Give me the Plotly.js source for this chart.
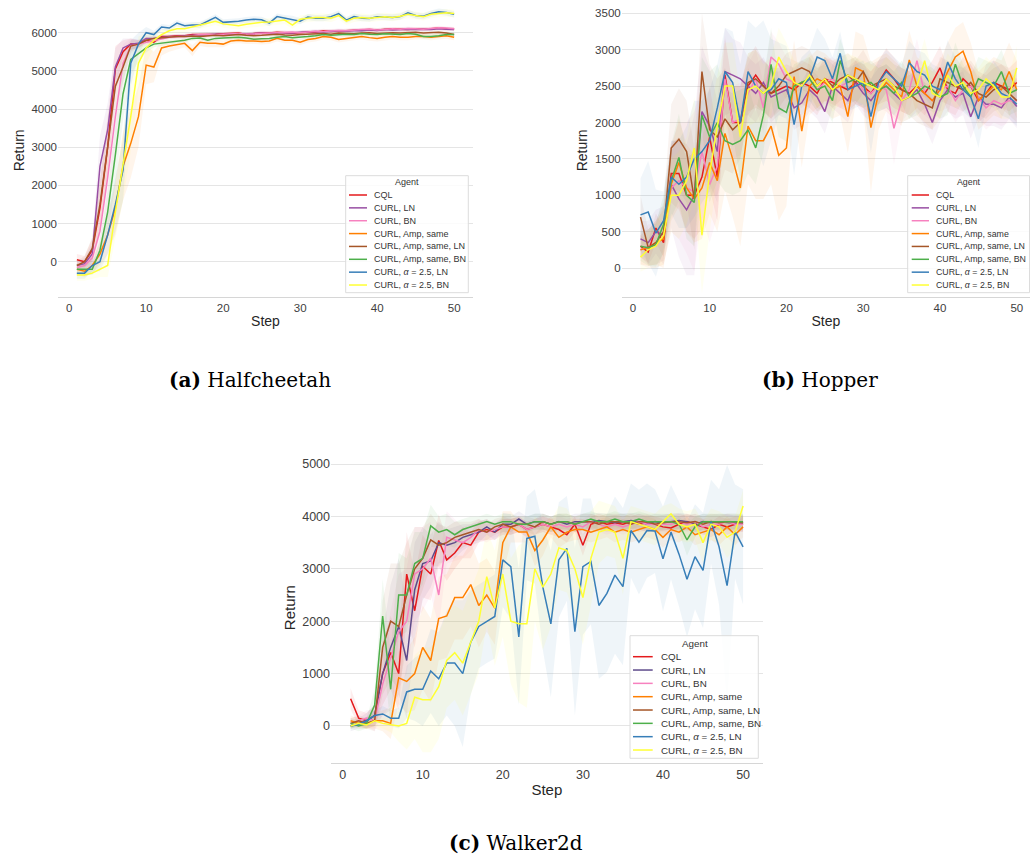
<!DOCTYPE html>
<html>
<head>
<meta charset="utf-8">
<script src="https://cdn.plot.ly/plotly-3.0.1.min.js"></script>
<style>html,body{margin:0;padding:0;background:#fff}#chart{width:1030px;height:860px}</style>
</head>
<body>
<div id="chart"></div>
<script>
// ---------------- data ----------------
const steps = [1,2,3,4,5,6,7,8,9,10,11,12,13,14,15,16,17,18,19,20,21,22,23,24,25,26,27,28,29,30,31,32,33,34,35,36,37,38,39,40,41,42,43,44,45,46,47,48,49,50];
const agents = ["CQL","CURL, LN","CURL, BN","CURL, Amp, same","CURL, Amp, same, LN","CURL, Amp, same, BN","CURL, α = 2.5, LN","CURL, α = 2.5, BN"];
const agentLabels = ["CQL","CURL, LN","CURL, BN","CURL, Amp, same","CURL, Amp, same, LN","CURL, Amp, same, BN","CURL, <i>α</i> = 2.5, LN","CURL, <i>α</i> = 2.5, BN"];
const colorsAB = ["#e41a1c","#984ea3","#f781bf","#ff7f00","#a65628","#4daf4a","#377eb8","#ffff33"];
const colorsC  = ["#e41a1c","#5e4b8b","#f781bf","#ff7f00","#a65628","#4daf4a","#377eb8","#ffff33"];
const xTicks = [0,10,20,30,40,50];
const yTicksA = [0,1000,2000,3000,4000,5000,6000];
const yTicksB = [0,500,1000,1500,2000,2500,3000,3500];
const yTicksC = [0,1000,2000,3000,4000,5000];
const captions = ["<b>(a)</b> Halfcheetah","<b>(b)</b> Hopper","<b>(c)</b> Walker2d"];

// Halfcheetah means
const hc_cql = [50,0,300,1400,3000,5050,5500,5700,5700,5800,5750,5900,5900,5920,5920,5950,5950,5950,5960,5970,5980,5990,5950,5980,6000,5990,6010,6000,5990,6000,6020,6010,6050,6030,6040,6050,6060,6070,6080,6070,6080,6100,6090,6080,6100,6090,6100,6120,6100,6100];
const hc_ln = [-100,-50,200,2500,3450,5100,5600,5700,5720,5850,5850,5880,5900,5900,5920,5930,5940,5950,5960,5950,5960,5970,5960,5980,5990,5980,6000,6000,5990,6010,6020,6030,6020,6040,6050,6040,6060,6050,6070,6060,6080,6070,6080,6090,6080,6090,6080,6100,6090,6080];
const hc_bn = [-150,-100,100,800,2200,3800,5200,5650,5700,5750,5780,5850,5880,5900,5900,5920,5950,5950,5940,5960,5970,5980,5960,5970,5990,6000,6000,6010,6020,6000,6020,6040,6030,6050,6060,6050,6070,6080,6090,6070,6080,6100,6090,6110,6100,6090,6110,6130,6120,6100];
const hc_amp = [-200,-250,-100,200,700,1400,2500,3100,3800,5150,5100,5600,5650,5680,5720,5530,5750,5720,5720,5700,5780,5800,5780,5780,5770,5780,5850,5800,5800,5750,5820,5850,5900,5880,5820,5850,5880,5900,5870,5850,5880,5900,5880,5880,5900,5900,5880,5900,5920,5880];
const hc_amp_ln = [-100,0,350,1500,3000,4600,5100,5650,5700,5800,5850,5870,5880,5900,5900,5910,5900,5920,5930,5920,5940,5950,5930,5920,5930,5950,5960,5940,5930,5950,5960,5970,5980,5960,5990,5980,5970,5990,6000,5980,5990,6000,5990,6000,6010,5990,6000,6010,5990,5950];
const hc_amp_bn = [-200,-200,-200,300,1300,2800,4400,5300,5450,5600,5700,5720,5750,5780,5800,5850,5860,5800,5850,5860,5870,5880,5860,5830,5840,5850,5880,5900,5870,5880,5900,5920,5950,5930,5950,5960,5950,5980,5960,5950,5970,5960,5950,5980,5960,5900,5900,5920,5950,5950];
const hc_a_ln = [-300,-300,-100,0,700,1500,2400,5200,5700,6000,5950,6150,6120,6250,6180,6200,6200,6300,6400,6270,6280,6300,6330,6350,6340,6250,6420,6380,6360,6300,6410,6380,6380,6420,6500,6330,6420,6380,6370,6420,6410,6400,6420,6520,6450,6430,6500,6550,6530,6480];
const hc_a_bn = [-350,-350,-300,-200,-100,1300,2500,3800,5200,5600,5800,5950,6050,6100,6100,6150,6180,6250,6300,6230,6200,6180,6220,6250,6270,6280,6300,6330,6200,6350,6380,6400,6400,6380,6450,6300,6380,6400,6380,6400,6420,6400,6430,6480,6450,6420,6480,6500,6520,6500];
// Halfcheetah band half-widths
const hc_cql_sd = [150,150,300,700,800,600,300,150,100,80,60,60,50,50,50,50,50,50,50,50,50,50,50,50,50,50,50,50,50,50,50,50,50,50,50,50,50,50,50,50,50,50,50,50,50,50,50,50,50,50];
const hc_ln_sd = [120,150,300,800,700,500,250,150,100,80,60,60,50,50,50,50,50,50,50,50,50,50,50,50,50,50,50,50,50,50,50,50,50,50,50,50,50,50,50,50,50,50,50,50,50,50,50,50,50,50];
const hc_bn_sd = [150,150,250,500,900,800,500,200,100,80,60,60,50,50,50,50,50,50,50,50,50,50,50,50,50,50,50,50,50,50,50,50,50,50,50,50,50,50,50,50,50,50,50,50,50,50,50,50,50,50];
const hc_amp_sd = [150,150,200,300,500,700,900,900,800,500,400,200,150,120,100,150,100,100,100,80,80,80,80,80,80,80,80,80,80,80,80,80,80,80,80,80,80,80,80,80,80,80,80,80,80,80,80,80,80,80];
const hc_amp_ln_sd = [120,150,300,700,800,600,400,150,100,80,60,60,50,50,50,50,50,50,50,50,50,50,50,50,50,50,50,50,50,50,50,50,50,50,50,50,50,50,50,50,50,50,50,50,50,50,50,50,50,50];
const hc_amp_bn_sd = [150,150,150,300,600,800,700,400,200,120,80,60,60,60,60,60,60,60,60,60,60,60,60,60,60,60,60,60,60,60,60,60,60,60,60,60,60,60,60,60,60,60,60,60,60,60,60,60,60,60];
const hc_a_ln_sd = [150,150,150,250,500,700,800,600,300,150,100,80,80,80,80,80,80,80,80,80,80,80,80,80,80,80,80,80,80,80,80,80,80,80,80,80,80,80,80,80,80,80,80,80,80,80,80,80,80,80];
const hc_a_bn_sd = [150,150,150,200,300,700,900,900,700,400,200,120,100,100,100,100,100,100,100,100,100,100,100,100,100,100,100,100,100,100,100,100,100,100,100,100,100,100,100,100,100,100,100,100,100,100,100,100,100,100];

// Hopper means
const hp_cql = [300,220,550,350,1300,1300,1000,1000,1250,1800,1250,2650,2000,2000,2500,2650,2500,2400,2450,2500,2450,2550,2500,2400,2600,2550,2500,2450,2550,2500,2400,2550,2720,2600,2450,2400,2500,2400,2550,2750,2450,2400,2600,2500,2300,2400,2550,2500,2450,2550];
const hp_ln = [400,350,500,450,1150,950,800,1000,2150,1950,1600,2700,2650,2600,2500,2400,2550,2350,2400,2450,2200,2270,2450,2350,2150,2500,2400,2300,2550,2400,2300,2450,2500,2400,2300,2350,2450,2250,2000,2300,2450,2350,2400,2080,2350,2250,2250,2200,2350,2220];
const hp_bn = [250,300,300,450,1100,1200,1100,1050,1600,1150,1400,2600,2000,2050,2400,2600,2200,2900,2800,2600,2550,2500,2600,2450,2550,2600,2500,2550,2600,2450,2400,2500,2450,1920,2300,2450,2850,2400,2300,2450,2500,2300,2450,2500,2350,2200,2300,2250,2300,2300];
const hp_amp = [250,280,350,400,1150,1450,1100,950,1100,1450,1200,1850,1500,1100,1950,1750,1750,1950,1550,1650,2630,1880,2500,2600,2550,2450,2500,2080,2750,2700,1930,2400,2550,2450,2350,2860,2500,2400,2300,2450,2700,2900,2980,2700,2300,2400,2500,2450,2700,2450];
const hp_amp_ln = [700,280,350,500,1650,1770,1600,950,2700,1900,1800,2050,1900,2000,2550,2600,2500,2400,2500,2650,2700,2750,2700,2500,2600,2500,2600,2650,2550,2700,2500,2550,2600,2500,2450,2400,2300,2250,2200,2600,2550,2500,2450,2550,2400,2350,2450,2500,2400,2300];
const hp_amp_bn = [300,280,320,600,1200,1520,1000,900,2100,1800,2000,1750,1700,1750,1900,1650,2100,2800,2200,2140,2500,2550,2600,2450,2500,2300,2850,2550,2600,2500,2550,2450,2500,2400,2550,2350,2400,2500,2450,2350,2400,2800,2500,2350,2600,2550,2500,2700,2400,2450];
const hp_a_ln = [730,770,480,650,1250,1150,1250,1500,1600,1750,2200,2700,2550,2000,2700,2500,2400,2450,2600,2550,1970,2500,2600,2900,2850,2600,2950,2450,2500,2550,2080,2550,2700,2600,2500,2820,2700,2650,2500,2450,2830,2600,2450,2350,2050,2500,2550,2400,2350,2250];
const hp_a_bn = [150,250,300,450,1000,1000,1200,1650,450,1300,1950,2500,2500,1800,2450,2500,2400,2500,2900,2700,2550,2500,2650,2500,2600,2450,2550,2650,2600,2550,2500,2450,2600,2500,2300,2350,2500,2850,2400,2350,2650,2500,2550,2400,2450,2600,2500,2350,2350,2750];
// Hopper band half-widths
const hp_cql_sd = [150,150,200,200,400,500,500,600,700,700,600,500,500,500,400,400,350,350,300,300,300,300,300,300,300,300,300,300,300,300,300,300,300,300,300,300,300,300,300,300,300,300,300,300,300,300,300,300,300,300];
const hp_ln_sd = [250,300,300,400,600,800,900,1100,900,800,700,600,500,500,400,400,350,350,300,300,300,300,300,300,300,300,300,300,300,300,300,300,300,300,300,300,300,300,300,300,300,300,300,300,300,300,300,300,300,300];
const hp_bn_sd = [200,300,300,400,600,800,900,1100,900,800,700,600,500,500,400,400,350,350,300,300,300,300,300,300,300,300,300,300,300,300,300,300,300,500,300,300,300,300,300,300,300,300,300,300,300,300,300,300,300,300];
const hp_amp_sd = [200,250,300,400,500,600,600,600,700,700,700,800,800,800,800,800,800,800,900,800,500,500,400,400,400,400,400,500,500,500,900,500,400,400,400,400,400,400,400,400,400,400,400,400,400,400,400,400,400,400];
const hp_amp_ln_sd = [300,250,300,400,600,700,700,700,800,900,800,700,600,500,400,400,350,350,300,300,300,300,300,300,300,300,300,300,300,300,300,300,300,300,300,300,300,300,300,300,300,300,300,300,300,300,300,300,300,300,300];
const hp_amp_bn_sd = [200,250,300,400,500,600,600,600,800,900,800,700,700,700,600,500,500,500,400,400,300,300,300,300,300,300,300,300,300,300,300,300,300,300,300,300,300,300,300,300,300,300,300,300,300,300,300,300,300,300];
const hp_a_ln_sd = [500,700,600,400,500,600,700,800,700,700,600,600,700,800,700,800,1000,700,500,500,700,400,400,400,300,300,300,300,300,300,500,300,300,300,300,300,300,300,300,300,300,300,300,300,400,300,300,300,300,300];
const hp_a_bn_sd = [200,250,300,400,500,600,600,700,800,800,700,600,600,600,500,500,400,400,400,400,300,300,300,300,300,300,300,300,300,300,300,300,300,300,300,300,300,300,300,300,300,300,300,300,300,300,300,300,300,300];

// Walker2d means
const wk_cql = [520,150,100,200,1000,1400,1000,2900,2200,3050,2900,3540,3170,3300,3500,3450,3700,3750,3700,3800,3800,3850,3750,3800,3850,3800,3750,3650,3850,3450,3850,3900,3850,3880,3850,3900,3850,3880,3850,3800,3780,3850,3900,3850,3800,3750,3850,3800,3850,3850];
const wk_ln = [0,50,100,200,1000,1500,1900,1250,2600,3100,3150,3500,3450,3500,3600,3650,3700,3800,3700,3850,3850,3950,3850,3900,3900,3850,3900,3850,3900,3900,3900,3920,3900,3880,3900,3920,3900,3850,3900,3880,3900,3920,3900,3850,3900,3880,3900,3880,3870,3880];
const wk_bn = [50,100,150,100,800,1300,1800,2000,2900,3000,3200,2500,3600,3550,3500,3600,3750,3700,3750,3800,3800,3850,3750,3800,3850,3800,3850,3800,3850,3800,3900,3850,3800,3850,3800,3850,3900,3850,3850,3850,3850,3900,3850,3900,3800,3850,3850,3900,3850,3850];
const wk_amp = [100,50,50,100,100,50,920,850,1000,1500,1250,2050,2100,2450,2450,2700,2300,2500,2250,3500,3800,3700,3700,3350,3550,3800,3600,3700,3750,3750,3700,3750,3800,3700,3750,3700,3750,3800,3750,3600,3750,3700,3800,3650,3700,3750,3650,3800,3650,3800];
const wk_amp_ln = [50,100,50,100,1500,2000,1900,2500,3000,3200,3550,3450,3500,3600,3650,3700,3750,3700,3800,3850,3800,3850,3850,3800,3900,3850,3900,3900,3850,3900,3900,3850,3900,3900,3900,3850,3900,3900,3850,3880,3900,3900,3880,3900,3850,3900,3880,3900,3900,3880];
const wk_amp_bn = [50,0,50,400,2100,700,2500,2500,3100,3200,3820,3700,3750,3650,3750,3800,3850,3900,3850,3900,3900,3850,3850,3900,3900,3850,3900,3900,3850,3900,3950,3900,3900,3950,3900,3900,3950,3900,3900,3900,3900,3850,3550,3800,3900,3900,3900,3900,3900,3900];
const wk_a_ln = [0,30,100,200,230,150,150,650,700,700,1050,900,1200,1200,1000,1600,1900,2000,2090,3170,3040,1700,3580,3620,2650,1950,3170,3390,1800,3040,3140,2300,2530,2880,2660,3730,3510,3730,3720,3190,3700,3280,2800,3230,2970,3900,3420,2680,3710,3420];
const wk_a_bn = [0,50,20,100,50,30,0,50,550,500,500,750,1250,1400,1200,1600,2000,2850,2250,2900,2000,1950,1950,3000,2650,2900,3400,3350,3000,2450,3200,3700,3750,3700,3200,3900,3850,3800,3750,3900,4050,3850,3800,3850,3500,3850,3800,3600,3700,4200];
// Walker2d band half-widths
const wk_cql_sd = [200,150,150,200,600,700,700,800,700,600,500,500,400,300,300,250,200,200,150,150,150,150,150,150,150,150,150,150,150,200,150,150,150,150,150,150,150,150,150,150,150,150,150,150,150,150,150,150,150,150];
const wk_ln_sd = [100,100,150,200,800,1200,1300,1100,900,700,500,400,300,300,250,200,200,150,150,150,150,150,150,150,150,150,150,150,150,150,150,150,150,150,150,150,150,150,150,150,150,150,150,150,150,150,150,150,150,150];
const wk_bn_sd = [100,100,150,200,600,900,1100,1000,900,800,700,600,500,400,300,250,200,200,150,150,150,150,150,150,150,150,150,150,150,150,150,150,150,150,150,150,150,150,150,150,150,150,150,150,150,150,150,150,150,150];
const wk_amp_sd = [100,100,100,150,200,300,500,600,700,800,800,800,800,800,800,800,800,700,700,600,300,200,200,300,300,200,200,200,200,200,200,200,200,200,200,200,200,200,200,200,200,200,200,200,200,200,200,200,200,200];
const wk_amp_ln_sd = [100,100,100,200,900,1100,1200,1000,800,600,500,400,300,300,250,200,200,150,150,150,150,150,150,150,150,150,150,150,150,150,150,150,150,150,150,150,150,150,150,150,150,150,150,150,150,150,150,150,150,150];
const wk_amp_bn_sd = [100,100,100,300,700,700,800,700,600,500,400,300,300,250,200,200,150,150,150,150,150,150,150,150,150,150,150,150,150,150,150,150,150,150,150,150,150,150,150,150,150,150,300,200,150,150,150,150,150,150];
const wk_a_ln_sd = [50,50,80,100,150,150,200,500,600,700,800,900,1000,1200,1400,1000,800,800,800,900,1000,1300,800,900,1200,1400,1100,1000,1600,1300,1200,1400,1500,1500,1500,900,1000,900,800,1000,900,1000,1100,1000,1100,800,1100,2300,900,1100];
const wk_a_bn_sd = [50,50,80,100,100,150,300,500,800,1000,1000,1000,900,900,1000,1000,1000,900,1100,1200,1200,1500,1600,1000,1200,1000,800,800,900,900,900,600,500,500,700,300,300,300,300,300,200,300,300,300,400,300,300,400,300,300];

// ---------------- build ----------------
const W = 1030, H = 860;
const px = v => v / W;
const py = v => 1 - v / H;
function rgba(hex, a) {
  const n = parseInt(hex.slice(1), 16);
  return `rgba(${(n >> 16) & 255},${(n >> 8) & 255},${n & 255},${a})`;
}
const traces = [];
function addPanel(xa, ya, means, sds, colors, alpha) {
  const rev = steps.slice().reverse();
  means.forEach((m, i) => {
    const up = m.map((v, j) => v + sds[i][j]);
    const lo = m.map((v, j) => v - sds[i][j]).reverse();
    traces.push({x: steps.concat(rev), y: up.concat(lo), mode: 'lines', fill: 'toself',
      fillcolor: rgba(colors[i], alpha), line: {width: 0, color: rgba(colors[i], 0)},
      xaxis: xa, yaxis: ya, hoverinfo: 'skip', showlegend: false});
  });
  means.forEach((m, i) => {
    traces.push({x: steps, y: m, mode: 'lines', name: agents[i],
      line: {color: colors[i], width: 1.5}, xaxis: xa, yaxis: ya, showlegend: false});
  });
}
addPanel('x', 'y', [hc_cql, hc_ln, hc_bn, hc_amp, hc_amp_ln, hc_amp_bn, hc_a_ln, hc_a_bn],
  [hc_cql_sd, hc_ln_sd, hc_bn_sd, hc_amp_sd, hc_amp_ln_sd, hc_amp_bn_sd, hc_a_ln_sd, hc_a_bn_sd], colorsAB, 0.08);
addPanel('x2', 'y2', [hp_cql, hp_ln, hp_bn, hp_amp, hp_amp_ln, hp_amp_bn, hp_a_ln, hp_a_bn],
  [hp_cql_sd, hp_ln_sd, hp_bn_sd, hp_amp_sd, hp_amp_ln_sd, hp_amp_bn_sd, hp_a_ln_sd, hp_a_bn_sd], colorsAB, 0.07);
addPanel('x3', 'y3', [wk_cql, wk_ln, wk_bn, wk_amp, wk_amp_ln, wk_amp_bn, wk_a_ln, wk_a_bn],
  [wk_cql_sd, wk_ln_sd, wk_bn_sd, wk_amp_sd, wk_amp_ln_sd, wk_amp_bn_sd, wk_a_ln_sd, wk_a_bn_sd], colorsC, 0.08);

const FONT = 'Arial, "Liberation Sans", sans-serif';
function xAxis(domain, range, anchor, fs, tfs) {
  return {domain, range, anchor, tickvals: xTicks, showgrid: false, zeroline: false,
    showline: true, linecolor: '#d6d6d6', linewidth: 1, ticks: '',
    tickfont: {size: fs, color: '#404040', family: FONT},
    title: {text: 'Step', font: {size: tfs, color: '#262626', family: FONT}, standoff: 3}};
}
function yAxis(domain, range, anchor, tv, fs, tfs, so) {
  return {domain, range, anchor, tickvals: tv, showgrid: true, gridcolor: '#e5e5e5', gridwidth: 1,
    zeroline: false, showline: false, ticks: '',
    tickfont: {size: fs, color: '#404040', family: FONT},
    title: {text: 'Return', font: {size: tfs, color: '#262626', family: FONT}, standoff: so}};
}

const shapes = [], annotations = [];
function addLegend(box, titleXY, y0, dy, lineX, textX, fs, colors) {
  shapes.push({type: 'rect', xref: 'paper', yref: 'paper', x0: px(box[0]), x1: px(box[2]),
    y0: py(box[3]), y1: py(box[1]), line: {color: '#dcdcdc', width: 1},
    fillcolor: 'rgba(255,255,255,0.85)', layer: 'above'});
  annotations.push({xref: 'paper', yref: 'paper', x: px(titleXY[0]), y: py(titleXY[1]),
    text: 'Agent', showarrow: false, xanchor: 'center', yanchor: 'middle',
    font: {size: fs, color: '#333', family: FONT}});
  agentLabels.forEach((lab, i) => {
    const yy = y0 + i * dy;
    shapes.push({type: 'line', xref: 'paper', yref: 'paper', x0: px(lineX[0]), x1: px(lineX[1]),
      y0: py(yy), y1: py(yy), line: {color: colors[i], width: 1.5}, layer: 'above'});
    annotations.push({xref: 'paper', yref: 'paper', x: px(textX), y: py(yy), text: lab,
      showarrow: false, xanchor: 'left', yanchor: 'middle',
      font: {size: fs, color: '#333', family: FONT}});
  });
}
addLegend([345.7, 175.7, 468.3, 292.7], [407, 182.5], 195, 12.86, [349, 367], 372, 9, colorsAB);
addLegend([907.7, 175.7, 1029.5, 292.7], [969, 182.5], 195, 12.86, [911.7, 929], 934, 8.8, colorsAB);
addLegend([630, 635.7, 758.3, 758.3], [695, 643.3], 656.7, 13.33, [633, 652.7], 659, 9.8, colorsC);

const capPos = [[250, 380], [820, 380], [516, 843]];
captions.forEach((c, i) => annotations.push({xref: 'paper', yref: 'paper', x: px(capPos[i][0]), y: py(capPos[i][1]),
  text: c, showarrow: false, xanchor: 'center', yanchor: 'middle',
  font: {size: 20, color: '#000', family: '"DejaVu Serif", "Liberation Serif", serif'}}));

const layout = {
  width: W, height: H, margin: {l: 0, r: 0, t: 0, b: 0},
  paper_bgcolor: '#ffffff', plot_bgcolor: '#ffffff', showlegend: false,
  font: {family: FONT, size: 11, color: '#404040'},
  xaxis: xAxis([px(58), px(473)], [-1.45, 52.45], 'y', 11.5, 14),
  yaxis: yAxis([py(296.7), py(4)], [-917, 6751], 'x', yTicksA, 11.5, 14, 3),
  xaxis2: xAxis([px(621.7), 1], [-1.45, 51.72], 'y2', 11.5, 14),
  yaxis2: yAxis([py(296.7), py(4)], [-394, 3628], 'x2', yTicksB, 11.5, 14, 4),
  xaxis3: xAxis([px(331), px(762.7)], [-1.45, 52.45], 'y3', 12.5, 15),
  yaxis3: yAxis([py(763.3), py(452)], [-712, 5229], 'x3', yTicksC, 12.5, 15, 2),
  shapes, annotations
};
Plotly.newPlot('chart', traces, layout, {staticPlot: true, displayModeBar: false});
</script>
</body>
</html>
